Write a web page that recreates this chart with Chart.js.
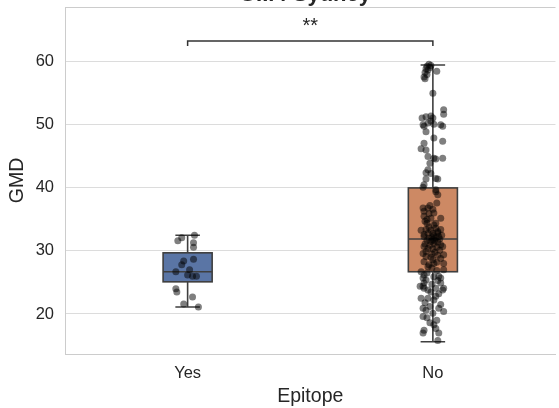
<!DOCTYPE html>
<html>
<head>
<meta charset="utf-8">
<script src="https://cdn.jsdelivr.net/npm/chart.js@4/dist/chart.umd.min.js"></script>
<style>
  html, body { margin: 0; padding: 0; background: #fff; }
  #wrap { width: 559px; height: 408px; }
</style>
</head>
<body>
<div id="wrap"><canvas id="chart"></canvas></div>
<script>
// categories and box stats
var categories = ["Yes", "No"];
var boxQ1 = [25.1, 26.7];
var boxMedian = [26.7, 31.9];
var boxQ3 = [29.7, 40.0];
var whiskerLow = [21.1, 15.6];
var whiskerHigh = [32.5, 59.5];
var boxColors = ["#5a75a5", "#cd8964"];
var yTicks = [20, 30, 40, 50, 60];

// strip points (GMD) with their horizontal jitter, in category units
var yesValues = [32.5, 32.1, 31.6, 31.3, 30.6, 28.4, 28.7, 27.8, 26.7, 27.0, 26.2, 26.0, 26.0, 24.0, 23.5, 22.7, 21.6, 21.1];
var yesJitter = [0.028, -0.024, -0.04, 0.024, 0.024, -0.016, 0.024, -0.024, -0.048, 0.008, 0, 0.02, 0.036, -0.048, -0.044, 0.02, -0.016, 0.044];

var noValues = [
  59.6, 59.4, 59.3, 59.1, 58.9, 58.7, 58.5, 58.3, 58.0, 57.6, 57.3, 55.0,
  52.4, 51.7, 51.4, 51.3, 51.1, 51.1, 50.6, 50.3, 50.1, 50.0, 50.0, 49.8, 49.8,
  48.9, 47.9, 47.4, 47.1, 46.2, 46.0, 45.0, 44.7, 44.6, 44.7, 43.9,
  42.9, 42.4, 42.3, 41.5, 41.4, 41.4, 40.5, 40.1, 39.7, 39.4, 38.9,
  37.6, 37.2, 36.8, 36.8, 36.6, 36.3, 36.0, 35.9, 35.5, 35.2,
  35.2, 35.0, 34.7, 34.4, 34.4, 34.1, 33.8, 33.6, 33.4, 33.4,
  33.3, 33.3, 33.1, 32.9, 32.8, 32.8, 32.6, 32.5, 32.4, 32.3,
  32.3, 32.2, 32.1, 32.0, 31.9, 31.8, 31.7, 31.6, 31.5, 31.4,
  31.2, 31.1, 31.0, 30.9, 30.7, 30.7, 30.6, 30.4, 30.3, 30.1,
  29.9, 29.8, 29.6, 29.5, 29.4, 29.3, 29.1, 29.0, 28.8, 28.6,
  28.3, 28.2, 28.0, 28.0, 27.8, 27.5, 27.3, 27.0, 26.9, 26.7, 26.5,
  26.2, 26.0, 25.9, 25.7, 25.7, 25.4, 25.3, 24.9, 24.9, 24.7,
  24.4, 24.4, 24.1, 24.1, 24.1, 23.8, 23.8, 23.5, 23.2, 22.8,
  22.5, 22.5, 22.2, 21.8, 21.5, 21.2, 20.9, 20.9, 20.6, 20.4,
  20.1, 19.6, 19.4, 19.0, 18.6, 18.3, 17.7, 17.4, 17.0, 17.0, 15.8
];
var noJitter = [
  -0.016, -0.008, -0.024, -0.012, -0.028, -0.02, 0.016, -0.032, -0.024, -0.036, -0.032, 0,
  0.044, 0.044, -0.008, -0.028, -0.044, 0, -0.008, -0.02, 0.004, -0.04, 0.032, -0.036, 0.04,
  -0.028, 0.004, 0.04, -0.036, -0.048, -0.028, -0.02, 0.004, 0.012, 0.04, -0.012,
  -0.02, -0.028, -0.008, 0.012, -0.028, 0.02, -0.036, -0.04, 0.012, 0.012, 0.02,
  0.016, -0.012, -0.04, -0.02, 0, -0.036, 0.004, -0.016, -0.036, -0.008,
  0.032, -0.024, -0.032, -0.024, 0.012, 0.004, -0.016, 0.012, -0.028, 0.032,
  -0.048, -0.008, 0.02, 0.02, -0.02, 0, -0.036, 0.036, 0.004, 0.024,
  -0.036, -0.004, 0.012, -0.016, 0.028, 0, -0.024, 0.008, -0.008, 0.02,
  0.004, -0.032, 0.032, -0.012, -0.036, 0.04, 0.016, -0.02, 0, 0.028,
  -0.028, 0.008, -0.04, -0.004, 0.044, 0.02, -0.028, -0.008, 0.032, 0,
  -0.036, 0.016, 0.004, 0.044, -0.016, -0.02, -0.004, 0.044, 0.016, -0.048, -0.024,
  -0.036, 0.024, 0.004, -0.04, 0.032, -0.028, 0.02, -0.036, 0.032, -0.004,
  -0.052, -0.04, 0.012, -0.036, 0.044, -0.02, 0.04, -0.008, 0.024, 0.012,
  -0.048, -0.02, 0.004, -0.032, 0.032, -0.012, -0.04, 0.024, -0.028, 0.044,
  0, -0.04, -0.024, 0.016, -0.012, 0.004, 0.012, -0.036, -0.04, 0.024, 0.02
];

var sigLabel = "**";
var sigLevel = [63.3, 62.5]; // bracket top, bracket leg end
var titleText = "GII.4 Sydney";

var FONT = "'Liberation Sans', Arial, sans-serif";
var TEXT = "#262626";

function toPoints(catIndex, values, jitter) {
  var pts = [];
  for (var i = 0; i < values.length; i++) {
    pts.push({ x: catIndex + (jitter[i] || 0), y: values[i] });
  }
  return pts;
}

// boxes, whiskers and caps, drawn under the points
var boxPlugin = {
  id: "boxes",
  beforeDatasetsDraw: function (chart) {
    var ctx = chart.ctx, xs = chart.scales.x, ys = chart.scales.y;
    var half = xs.getPixelForValue(0.1) - xs.getPixelForValue(0);
    ctx.save();
    ctx.strokeStyle = "#3f3f3f";
    ctx.lineWidth = 1.6;
    for (var i = 0; i < categories.length; i++) {
      var cx = xs.getPixelForValue(i);
      var q1 = ys.getPixelForValue(boxQ1[i]);
      var q3 = ys.getPixelForValue(boxQ3[i]);
      var med = ys.getPixelForValue(boxMedian[i]);
      var lo = ys.getPixelForValue(whiskerLow[i]);
      var hi = ys.getPixelForValue(whiskerHigh[i]);
      ctx.beginPath();
      ctx.moveTo(cx, q3); ctx.lineTo(cx, hi);
      ctx.moveTo(cx, q1); ctx.lineTo(cx, lo);
      ctx.moveTo(cx - half / 2, hi); ctx.lineTo(cx + half / 2, hi);
      ctx.moveTo(cx - half / 2, lo); ctx.lineTo(cx + half / 2, lo);
      ctx.stroke();
      ctx.fillStyle = boxColors[i];
      ctx.fillRect(cx - half, q3, half * 2, q1 - q3);
      ctx.strokeRect(cx - half, q3, half * 2, q1 - q3);
      ctx.beginPath();
      ctx.moveTo(cx - half, med); ctx.lineTo(cx + half, med);
      ctx.stroke();
    }
    ctx.restore();
  },
  afterDatasetsDraw: function (chart) {
    var ctx = chart.ctx, xs = chart.scales.x, ys = chart.scales.y, a = chart.chartArea;
    ctx.save();
    // top spine
    ctx.strokeStyle = "#cccccc";
    ctx.lineWidth = 1;
    ctx.beginPath();
    ctx.moveTo(a.left, a.top + 0.5); ctx.lineTo(a.right, a.top + 0.5);
    ctx.stroke();
    // significance bracket
    var x0 = xs.getPixelForValue(0), x1 = xs.getPixelForValue(1);
    var yt = ys.getPixelForValue(sigLevel[0]), yl = ys.getPixelForValue(sigLevel[1]);
    ctx.strokeStyle = "#333333";
    ctx.lineWidth = 1.5;
    ctx.beginPath();
    ctx.moveTo(x0, yl); ctx.lineTo(x0, yt); ctx.lineTo(x1, yt); ctx.lineTo(x1, yl);
    ctx.stroke();
    ctx.fillStyle = TEXT;
    ctx.font = "20px " + FONT;
    ctx.textAlign = "center";
    ctx.textBaseline = "alphabetic";
    ctx.fillText(sigLabel, (x0 + x1) / 2, yt - 9);
    ctx.restore();
  },
  afterDraw: function (chart) {
    // title, mostly cut off by the top edge in the reference
    var ctx = chart.ctx;
    ctx.save();
    ctx.fillStyle = TEXT;
    ctx.font = "bold 22px " + FONT;
    ctx.textAlign = "center";
    ctx.textBaseline = "alphabetic";
    ctx.fillText(titleText, 305, 1);
    ctx.restore();
  }
};

new Chart(document.getElementById("chart"), {
  type: "scatter",
  data: {
    datasets: [
      { label: categories[0], data: toPoints(0, yesValues, yesJitter) },
      { label: categories[1], data: toPoints(1, noValues, noJitter) }
    ]
  },
  options: {
    responsive: true,
    maintainAspectRatio: false,
    animation: false,
    devicePixelRatio: 1,
    layout: { padding: { top: 7, right: -3, left: 0, bottom: 0 } },
    elements: {
      point: { radius: 3.5, backgroundColor: "rgba(0,0,0,0.5)", borderWidth: 0, hoverRadius: 3.5 }
    },
    plugins: { legend: { display: false }, tooltip: { enabled: false }, title: { display: false } },
    scales: {
      x: {
        type: "linear",
        min: -0.5,
        max: 1.5,
        afterBuildTicks: function (s) { s.ticks = categories.map(function (c, i) { return { value: i }; }); },
        afterFit: function (s) { s.height = 54; s.paddingLeft = 0; s.paddingRight = 0; },
        grid: { display: false },
        border: { display: true, color: "#cccccc", width: 1 },
        ticks: {
          padding: 2,
          color: TEXT,
          font: { family: FONT, size: 16.5 },
          callback: function (v) { return categories[v] !== undefined ? categories[v] : ""; }
        },
        title: { display: true, text: "Epitope", color: TEXT, font: { family: FONT, size: 19.5 }, padding: { top: 0, bottom: 0 } }
      },
      y: {
        min: 13.65,
        max: 68.7,
        afterBuildTicks: function (s) { s.ticks = yTicks.map(function (v) { return { value: v }; }); },
        afterFit: function (s) { s.width = 65; s.paddingTop = 0; s.paddingBottom = 0; },
        grid: { color: "#dcdcdc", lineWidth: 1, drawTicks: false },
        border: { display: true, color: "#cccccc", width: 1 },
        ticks: { padding: 11, color: TEXT, font: { family: FONT, size: 16.5 } },
        title: { display: true, text: "GMD", color: TEXT, font: { family: FONT, size: 19.5 }, padding: { top: 6, bottom: 0 } }
      }
    }
  },
  plugins: [boxPlugin]
});
</script>
</body>
</html>
